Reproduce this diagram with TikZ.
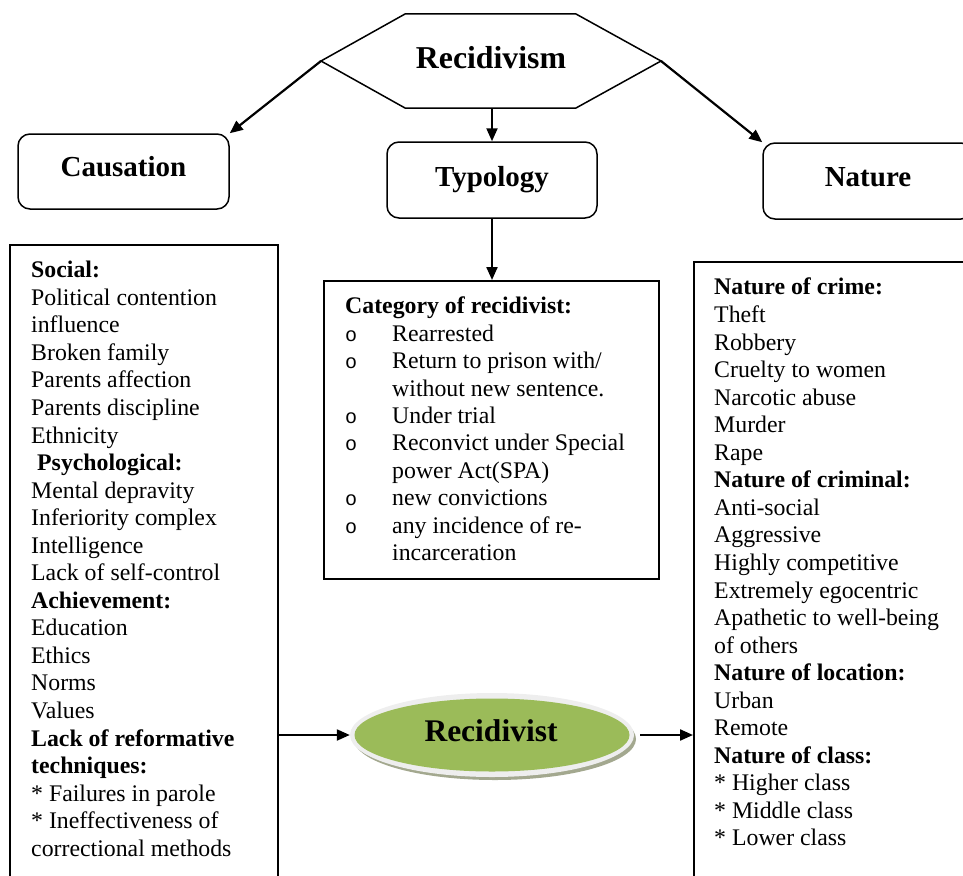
\documentclass[tikz,border=0pt]{standalone}
\usepackage{fontspec}
\setmainfont{Liberation Serif}
\newfontfamily\bulfont{Liberation Mono}
\usetikzlibrary{arrows.meta,shapes.geometric}
\definecolor{leafgreen}{HTML}{9BBB59}
\definecolor{ringgray}{HTML}{EEEEEE}
\definecolor{shadowgray}{HTML}{A3A88F}
\tikzset{
  arr/.style={line width=2.2pt,-{Triangle[length=13pt,width=11pt]}},
  rbox/.style={draw,line width=1.5pt,rounded corners=12pt,font=\fontsize{29}{33}\selectfont\bfseries,inner sep=0pt},
  sqbox/.style={draw,line width=1.5pt,inner sep=0pt},
  txt/.style={font=\fontsize{23.8}{27.55}\selectfont,align=left,inner sep=0pt,anchor=north west},
}
\newcommand{\bul}{\makebox[47pt][l]{\bulfont\fontsize{20}{20}\selectfont o}}
\begin{document}
\begin{tikzpicture}[x=1pt,y=-1pt]
\useasboundingbox (0,0) rectangle (963,875);
\clip (0,0) rectangle (963,875);
% hexagon
\coordinate (hl) at (321,61);
\coordinate (hr) at (661,61);
\coordinate (hb) at (492,108);
\draw[line width=1.5pt,fill=white] (405,14) -- (576,14) -- (hr) -- (576,108) -- (405,108) -- (hl) -- cycle;
\node[font=\fontsize{31.8}{36}\selectfont\bfseries,inner sep=0pt] (hex) at (491,58) {Recidivism};
% category boxes
\node[rbox,minimum width=211pt,minimum height=75pt] (caus) at (123.5,171.5) {\raisebox{11pt}{Causation}};
\node[rbox,minimum width=210pt,minimum height=76pt] (typ) at (492,180) {\raisebox{4pt}{Typology}};
\node[rbox,minimum width=210pt,minimum height=76pt] (nat) at (868,181) {\raisebox{7pt}{Nature}};
\draw[arr] (hl) -- (caus.north east);
\draw[arr] (hb) -- (typ.north);
\draw[arr] (hr) -- (nat.north west);
% content boxes
\node[sqbox,anchor=north west,minimum width=268pt,minimum height=650pt] (lbox) at (9,244) {};
\node[sqbox,anchor=north west,minimum width=335pt,minimum height=298pt] (cat) at (323,280) {};
\node[sqbox,anchor=north west,minimum width=290pt,minimum height=630pt] (rbx) at (693,261) {};
\draw[arr] (typ.south) -- (typ.south |- cat.north);
\node[txt] (ltext) at (31,261) {\textbf{Social:}\\
Political contention\\
influence\\
Broken family\\
Parents affection\\
Parents discipline\\
Ethnicity\\
\hspace*{6pt}\textbf{Psychological:}\\
Mental depravity\\
Inferiority complex\\
Intelligence\\
Lack of self-control\\
\textbf{Achievement:}\\
Education\\
Ethics\\
Norms\\
Values\\
\textbf{Lack of reformative}\\
\textbf{techniques:}\\
* Failures in parole\\
* Ineffectiveness of\\
correctional methods};
\node[txt,font=\fontsize{23.8}{27.4}\selectfont] (ctext) at (345,297) {\textbf{Category of recidivist:}\\
\bul Rearrested\\
\bul Return to prison with/\\
\hspace*{47pt}without new sentence.\\
\bul Under trial\\
\bul Reconvict under Special\\
\hspace*{47pt}power Act(SPA)\\
\bul new convictions\\
\bul any incidence of re-\\
\hspace*{47pt}incarceration};
\node[txt] (rtext) at (714,278) {\textbf{Nature of crime:}\\
Theft\\
Robbery\\
Cruelty to women\\
Narcotic abuse\\
Murder\\
Rape\\
\textbf{Nature of criminal:}\\
Anti-social\\
Aggressive\\
Highly competitive\\
Extremely egocentric\\
Apathetic to well-being\\
of others\\
\textbf{Nature of location:}\\
Urban\\
Remote\\
\textbf{Nature of class:}\\
* Higher class\\
* Middle class\\
* Lower class};
% recidivist ellipse
\fill[shadowgray] (495,739) ellipse [x radius=141pt,y radius=41pt];
\node[ellipse,fill=ringgray,minimum width=284pt,minimum height=84pt,inner sep=0pt] (rec) at (492,735) {};
\fill[leafgreen] (rec.center) ellipse [x radius=137.5pt,y radius=36.5pt];
\node[font=\fontsize{31.5}{36}\selectfont\bfseries,inner sep=0pt] (rectext) at (491,731) {Recidivist};
\draw[arr] (rec.west -| lbox.east) -- (rec.west);
\draw[arr,shorten <=6pt] (rec.east) -- (rec.east -| rbx.west);
\end{tikzpicture}
\end{document}
